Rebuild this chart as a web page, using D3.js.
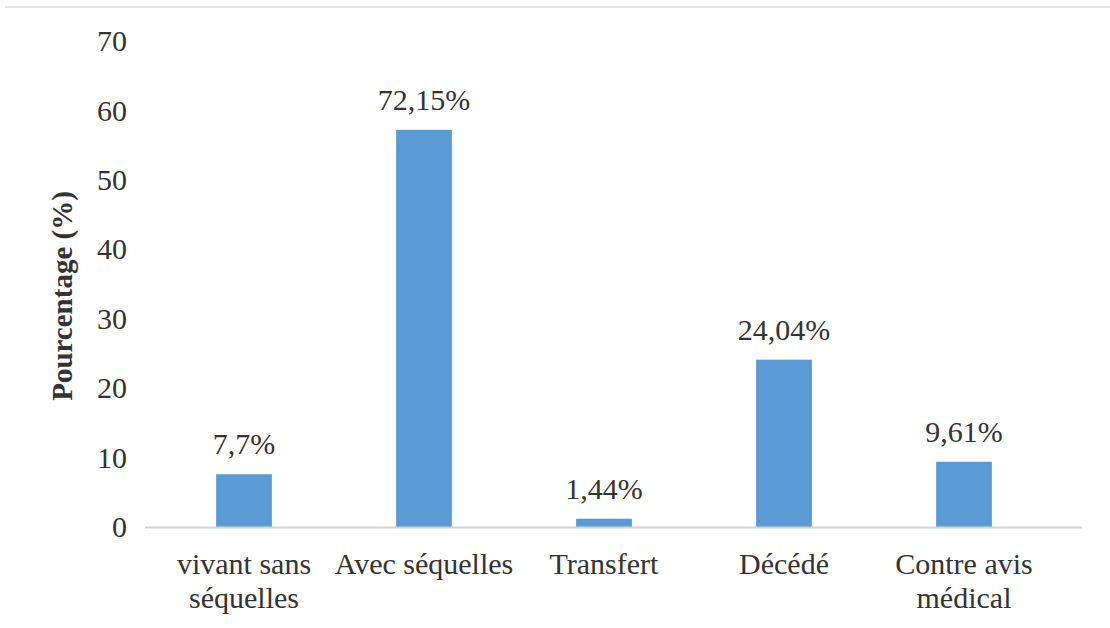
<!DOCTYPE html>
<html>
<head>
<meta charset="utf-8">
<script src="https://cdn.jsdelivr.net/npm/d3@7"></script>
<style>
  body { margin: 0; background: #fff; }
  svg { display: block; }
</style>
</head>
<body>
<div id="chart"></div>
<script>
// data
var categories = [["vivant sans", "séquelles"], ["Avec séquelles"], ["Transfert"], ["Décédé"], ["Contre avis", "médical"]];
var barValues = [7.6, 57.2, 1.2, 24.1, 9.4];
var valueLabels = ["7,7%", "72,15%", "1,44%", "24,04%", "9,61%"];
var yTicks = [0, 10, 20, 30, 40, 50, 60, 70];

var width = 1110, height = 628;
var x0 = 145, x1 = 1082, yBase = 527, yTop = 41;
var serif = "'Liberation Serif', 'Times New Roman', serif";

var svg = d3.select("#chart").append("svg")
    .attr("width", width)
    .attr("height", height);

// faint frame line at top
svg.append("line")
    .attr("x1", 5).attr("x2", width)
    .attr("y1", 7).attr("y2", 7)
    .attr("stroke", "#e4e4e4")
    .attr("stroke-width", 2);

var xScale = d3.scaleBand()
    .domain(d3.range(categories.length))
    .range([154, 1054])
    .paddingInner(0.69)
    .paddingOuter(0.345);

var yScale = d3.scaleLinear()
    .domain([0, 70])
    .range([yBase, yTop]);

// y axis: labels only, no line
var yAxis = svg.append("g")
    .attr("transform", "translate(" + x0 + ",0)")
    .call(d3.axisLeft(yScale).tickValues(yTicks).tickSize(0).tickPadding(18));
yAxis.select(".domain").remove();
yAxis.selectAll("text")
    .attr("font-family", serif)
    .attr("font-size", "30px")
    .attr("fill", "#333");

// bars
svg.selectAll(".bar")
    .data(barValues)
    .enter().append("rect")
    .attr("class", "bar")
    .attr("x", function(d, i) { return xScale(i); })
    .attr("y", function(d) { return yScale(d); })
    .attr("width", xScale.bandwidth())
    .attr("height", function(d) { return yScale(0) - yScale(d); })
    .attr("fill", "#5b9bd5");

// baseline
svg.append("line")
    .attr("x1", x0).attr("x2", x1)
    .attr("y1", yScale(0) + 0.5).attr("y2", yScale(0) + 0.5)
    .attr("stroke", "#d4d4d4")
    .attr("stroke-width", 2);

// value labels
svg.selectAll(".vlabel")
    .data(barValues)
    .enter().append("text")
    .attr("class", "vlabel")
    .attr("x", function(d, i) { return xScale(i) + xScale.bandwidth() / 2; })
    .attr("y", function(d) { return yScale(d) - 20; })
    .attr("text-anchor", "middle")
    .attr("font-family", serif)
    .attr("font-size", "30px")
    .attr("fill", "#333")
    .text(function(d, i) { return valueLabels[i]; });

// category labels (may wrap on two lines)
var cat = svg.selectAll(".cat")
    .data(categories)
    .enter().append("text")
    .attr("class", "cat")
    .attr("text-anchor", "middle")
    .attr("font-family", serif)
    .attr("font-size", "30px")
    .attr("fill", "#333");
cat.selectAll("tspan")
    .data(function(d, i) { return d.map(function(t) { return {t: t, i: i}; }); })
    .enter().append("tspan")
    .attr("x", function(d) { return xScale(d.i) + xScale.bandwidth() / 2; })
    .attr("y", function(d, j) { return 574 + j * 34; })
    .text(function(d) { return d.t; });

// y axis title
svg.append("text")
    .attr("transform", "translate(72,296) rotate(-90)")
    .attr("text-anchor", "middle")
    .attr("font-family", serif)
    .attr("font-size", "29px")
    .attr("font-weight", "bold")
    .attr("fill", "#333")
    .text("Pourcentage (%)");
</script>
</body>
</html>
